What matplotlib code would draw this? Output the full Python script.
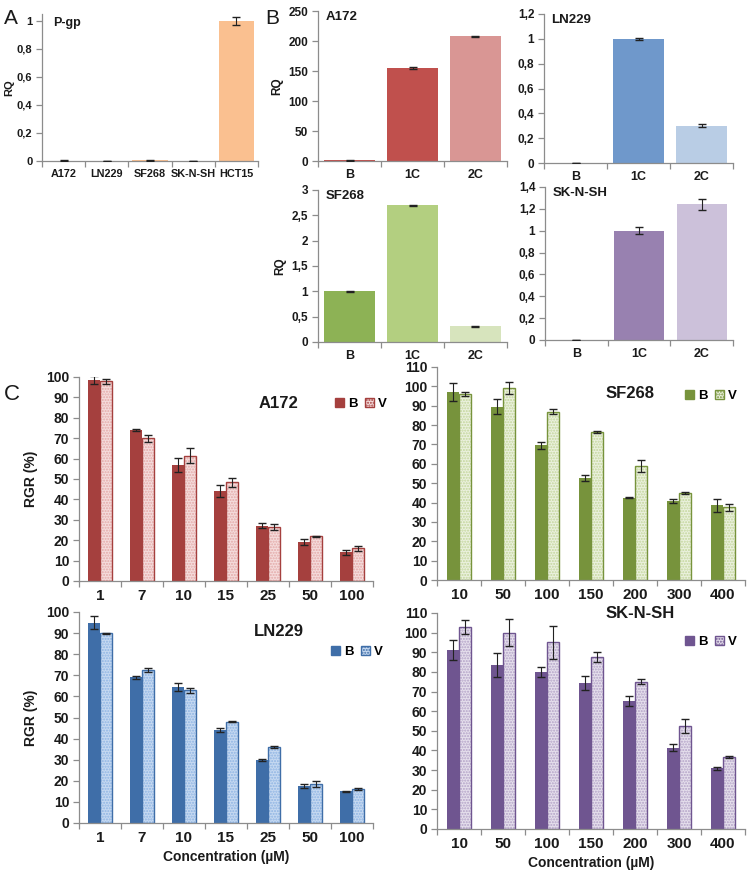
import matplotlib
matplotlib.use('Agg')
import matplotlib.pyplot as plt
import numpy as np
from matplotlib.ticker import FuncFormatter, FixedLocator
from matplotlib.patches import Patch

plt.rcParams['font.family'] = ['Liberation Sans', 'DejaVu Sans']
plt.rcParams['font.weight'] = 'bold'

W, H = 748, 873
fig = plt.figure(figsize=(W / 100, H / 100), dpi=100)

# ---------------- data ----------------
pgp_lines = ['A172', 'LN229', 'SF268', 'SK-N-SH', 'HCT15']
pgp_rq = [0.002, 0.0, 0.004, 0.0, 1.0]
pgp_err = [0.002, 0.0, 0.003, 0.0, 0.03]

b_cats = ['B', '1C', '2C']
a172_rq = [1.0, 155.0, 208.0]
a172_err = [0.3, 1.0, 0.8]
ln229_rq = [0.0, 1.0, 0.30]
ln229_err = [0.0, 0.01, 0.012]
sf268_rq = [1.0, 2.7, 0.31]
sf268_err = [0.01, 0.01, 0.006]
sknsh_rq = [0.0, 1.0, 1.24]
sknsh_err = [0.0, 0.03, 0.05]

conc_a = ['1', '7', '10', '15', '25', '50', '100']
conc_b = ['10', '50', '100', '150', '200', '300', '400']

a172_B = [98.5, 74, 57, 44, 27, 19, 14]
a172_B_err = [2, 0.3, 3.5, 3, 1.2, 1.5, 1.2]
a172_V = [98, 70, 61.5, 48.5, 26.5, 22, 16]
a172_V_err = [1.2, 1.8, 3.5, 2.2, 1.5, 0.3, 1.2]

sf268_B = [97, 89.5, 69.5, 52.5, 42.5, 40.8, 38.5]
sf268_B_err = [4.5, 4, 2, 1.5, 0.3, 1, 3.5]
sf268_V = [96, 99, 87, 76.5, 59, 45, 37.5]
sf268_V_err = [1, 3, 1.5, 0.5, 3, 0.7, 2]

ln229_B = [95, 69, 64.5, 44, 30, 17.5, 15]
ln229_B_err = [3, 0.7, 1.8, 1, 0.5, 1, 0.3]
ln229_V = [90, 72.5, 62.8, 48, 36, 18.5, 16]
ln229_V_err = [0.2, 1, 1, 0.3, 0.5, 1.3, 0.5]

sknsh_B = [91, 83.5, 80, 74.5, 65, 41.5, 31]
sknsh_B_err = [5, 6, 2.5, 3.5, 2.5, 1.8, 0.8]
sknsh_V = [103, 100, 95, 87.5, 75, 52.5, 36.8]
sknsh_V_err = [3.5, 7, 8.5, 2.5, 1.2, 3.5, 0.5]

SPINE = '#8c8c8c'
TXT = '#1a1a1a'


def add_ax(l, r, top, bottom):
    return fig.add_axes([l / W, 1 - bottom / H, (r - l) / W, (bottom - top) / H])


def comma(v, p):
    return ('%g' % v).replace('.', ',')


def style_ax(ax, labels, ylim, yticks, xfs, yfs, comma_fmt=False):
    n = len(labels)
    for s in ['top', 'right']:
        ax.spines[s].set_visible(False)
    for s in ['left', 'bottom']:
        ax.spines[s].set_color(SPINE)
        ax.spines[s].set_linewidth(0.9)
    ax.set_xlim(-0.5, n - 0.5)
    ax.set_ylim(*ylim)
    ax.set_xticks(range(n))
    ax.set_xticklabels(labels)
    ax.xaxis.set_minor_locator(FixedLocator(np.arange(-0.5, n, 1.0)))
    ax.tick_params(axis='x', which='major', length=0, pad=6, labelsize=xfs, colors=TXT)
    ax.tick_params(axis='x', which='minor', length=4, color=SPINE, width=0.9)
    ax.set_yticks(yticks)
    ax.tick_params(axis='y', length=4, color=SPINE, width=0.9, labelsize=yfs, colors=TXT, pad=3)
    if comma_fmt:
        ax.yaxis.set_major_formatter(FuncFormatter(comma))
    for lab in ax.get_xticklabels() + ax.get_yticklabels():
        lab.set_fontweight('bold')


def ftext(x, y, s, **kw):
    fig.text(x / W, 1 - y / H, s, **kw)


# ---------------- Panel A ----------------
axA = add_ax(42, 258, 14, 161)
x = np.arange(len(pgp_lines))
axA.bar(x, pgp_rq, width=0.82, color='#FAC090', zorder=2)
axA.errorbar(x, pgp_rq, yerr=pgp_err, fmt='none', ecolor='#222222', elinewidth=0.8, capsize=3, zorder=3)
style_ax(axA, pgp_lines, (0, 1.05), [0, 0.2, 0.4, 0.6, 0.8, 1.0], 7.8, 8, comma_fmt=True)
axA.set_ylabel('RQ', fontsize=8, fontweight='bold', color=TXT, labelpad=2)
axA.text(0.05, 0.98, 'P-gp', transform=axA.transAxes, fontsize=9, fontweight='bold', va='top', color=TXT)
ftext(4, 18, 'A', fontsize=15, fontweight='normal', va='center', color=TXT)

# ---------------- Panel B ----------------
def b_panel(l, r, top, bottom, vals, errs, colors, ylim, yticks, title, ylabel, comma_fmt):
    ax = add_ax(l, r, top, bottom)
    xx = np.arange(len(b_cats))
    ax.bar(xx, vals, width=0.8, color=colors, zorder=2)
    ax.errorbar(xx, vals, yerr=errs, fmt='none', ecolor='#222222', elinewidth=0.8, capsize=3, zorder=3)
    style_ax(ax, b_cats, ylim, yticks, 9, 8.5, comma_fmt=comma_fmt)
    if ylabel:
        ax.set_ylabel('RQ', fontsize=8.5, fontweight='bold', color=TXT, labelpad=4)
    ax.text(0.04, 1.0, title, transform=ax.transAxes, fontsize=9.5, fontweight='bold', va='top', color=TXT)
    return ax

b_panel(318, 507, 11, 161, a172_rq, a172_err, ['#C0504D', '#C0504D', '#D99694'],
        (0, 250), [0, 50, 100, 150, 200, 250], 'A172', True, False)
b_panel(544, 733, 14, 163, ln229_rq, ln229_err, ['#6F98CB', '#6F98CB', '#B9CDE5'],
        (0, 1.2), [0, 0.2, 0.4, 0.6, 0.8, 1.0, 1.2], 'LN229', False, True)
b_panel(318, 507, 190, 342, sf268_rq, sf268_err, ['#8DB255', '#B3CF80', '#D7E4BD'],
        (0, 3), [0, 0.5, 1, 1.5, 2, 2.5, 3], 'SF268', True, True)
b_panel(545, 733, 187, 340, sknsh_rq, sknsh_err, ['#9881B0', '#9881B0', '#CCC1DA'],
        (0, 1.4), [0, 0.2, 0.4, 0.6, 0.8, 1.0, 1.2, 1.4], 'SK-N-SH', False, True)
ftext(265, 18, 'B', fontsize=15, fontweight='normal', va='center', color=TXT)

# ---------------- Panel C ----------------
def c_panel(l, r, top, bottom, cats, bv, be, vv, ve, dark, light, hatchc, ylim, yticks,
            title, tpos, lpos, ylabel, xlabel):
    ax = add_ax(l, r, top, bottom)
    xx = np.arange(len(cats))
    w = 0.28
    ax.bar(xx - w / 2, bv, width=w, color=dark, zorder=2)
    ax.bar(xx + w / 2, vv, width=w, facecolor=light, edgecolor=hatchc, hatch='......', linewidth=0, zorder=2)
    ax.bar(xx + w / 2, vv, width=w, fill=False, edgecolor=dark, linewidth=1.0, zorder=2)
    ax.errorbar(xx - w / 2, bv, yerr=be, fmt='none', ecolor='#222222', elinewidth=0.8, capsize=3, zorder=3)
    ax.errorbar(xx + w / 2, vv, yerr=ve, fmt='none', ecolor='#222222', elinewidth=0.8, capsize=3, zorder=3)
    style_ax(ax, cats, ylim, yticks, 11, 10)
    if ylabel:
        ax.set_ylabel('RGR (%)', fontsize=10, fontweight='bold', color=TXT, labelpad=6)
    if xlabel:
        ax.set_xlabel('Concentration (\u00b5M)', fontsize=10, fontweight='bold', color=TXT, labelpad=3)
    ftext(tpos[0], tpos[1], title, fontsize=12, fontweight='bold', ha='center', va='center', color=TXT)
    handles = [Patch(facecolor=dark, edgecolor=dark),
               Patch(facecolor=light, edgecolor=dark, hatch='......', linewidth=1.0)]
    fig.legend(handles, ['B', 'V'], loc='center left', bbox_to_anchor=(lpos[0] / W, 1 - lpos[1] / H),
               ncol=2, frameon=False, handlelength=0.7, handleheight=0.7,
               handletextpad=0.3, columnspacing=0.6, borderpad=0, prop={'weight': 'bold', 'size': 9.5})
    return ax

c_panel(79, 373, 377, 581, conc_a, a172_B, a172_B_err, a172_V, a172_V_err,
        '#A5403E', '#F5DCDC', '#E3A9A8', (0, 100), list(range(0, 101, 10)),
        'A172', (278, 404), (328, 404), True, False)
c_panel(437, 745, 367, 580, conc_b, sf268_B, sf268_B_err, sf268_V, sf268_V_err,
        '#77933C', '#EBF1DE', '#C3D69B', (0, 110), list(range(0, 111, 10)),
        'SF268', (630, 394), (678, 396), False, False)
c_panel(79, 373, 612, 823, conc_a, ln229_B, ln229_B_err, ln229_V, ln229_V_err,
        '#3F6EA8', '#C6D9F1', '#8EB4E3', (0, 100), list(range(0, 101, 10)),
        'LN229', (279, 631), (324, 652), True, True)
c_panel(437, 745, 613, 829, conc_b, sknsh_B, sknsh_B_err, sknsh_V, sknsh_V_err,
        '#6F5590', '#E5DFEC', '#B3A2C7', (0, 110), list(range(0, 111, 10)),
        'SK-N-SH', (640, 613), (678, 642), False, True)
ftext(4, 395, 'C', fontsize=16, fontweight='normal', va='center', color=TXT)

fig.savefig('out.png', dpi=100)
